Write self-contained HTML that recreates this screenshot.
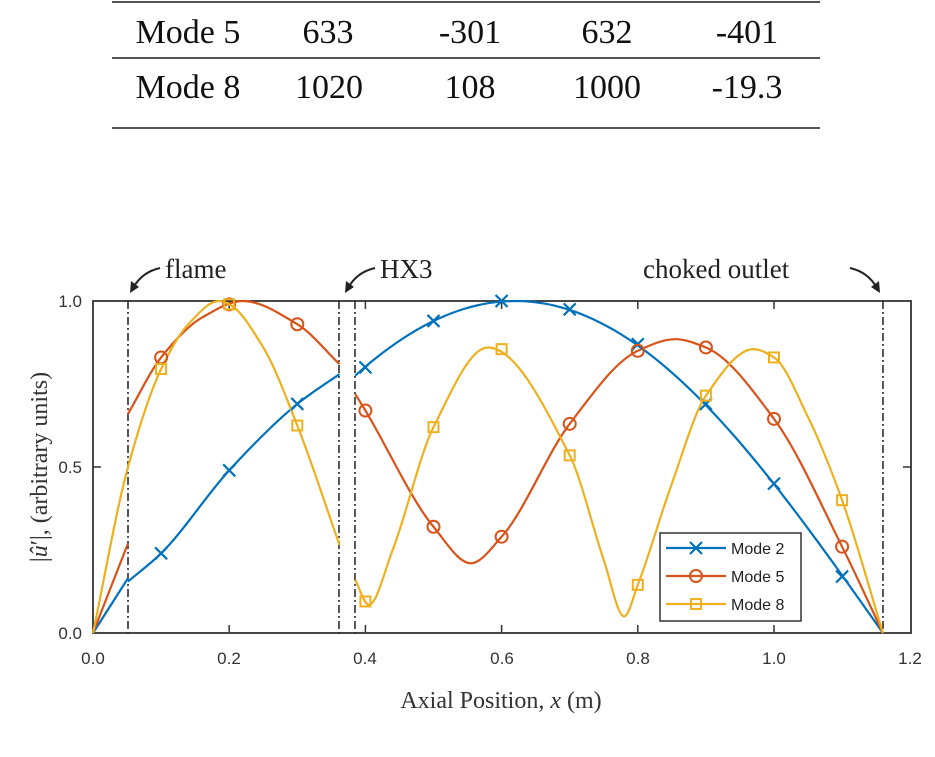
<!DOCTYPE html>
<html><head><meta charset="utf-8"><style>
body{margin:0;background:#fff;}
svg{display:block}
</style></head><body>
<svg id="s" width="935" height="757" viewBox="0 0 935 757" xmlns="http://www.w3.org/2000/svg">
<rect width="935" height="757" fill="#fff"/>
<g stroke="#555" stroke-width="2">
<line x1="112" y1="2" x2="820" y2="2"/>
<line x1="112" y1="58" x2="820" y2="58"/>
<line x1="112" y1="128" x2="820" y2="128"/>
</g>
<g font-family="Liberation Serif, serif" font-size="34" fill="#111" text-anchor="middle">
<text x="188" y="43">Mode 5</text><text x="328" y="43">633</text><text x="470" y="43">-301</text><text x="607" y="43">632</text><text x="747" y="43">-401</text>
<text x="188" y="98">Mode 8</text><text x="329" y="98">1020</text><text x="470" y="98">108</text><text x="607" y="98">1000</text><text x="747" y="98">-19.3</text>
</g>
<g id="plot"></g>
<g font-family="Liberation Sans, sans-serif" font-size="17" fill="#333">
<text x="82" y="639" text-anchor="end">0.0</text>
<text x="82" y="473" text-anchor="end">0.5</text>
<text x="82" y="307" text-anchor="end">1.0</text>
<g text-anchor="middle">
<text x="93" y="664">0.0</text><text x="229" y="664">0.2</text><text x="365" y="664">0.4</text><text x="502" y="664">0.6</text><text x="638" y="664">0.8</text><text x="774" y="664">1.0</text><text x="910" y="664">1.2</text>
</g></g>
<text x="501" y="708" text-anchor="middle" font-family="Liberation Serif, serif" font-size="24" fill="#333">Axial Position, <tspan font-style="italic">x</tspan> (m)</text>
<text transform="translate(47,467) rotate(-90)" text-anchor="middle" font-family="Liberation Serif, serif" font-size="24" fill="#333">|<tspan font-style="italic">û</tspan>′|, (arbitrary units)</text>
<g font-family="Liberation Serif, serif" font-size="27" fill="#222">
<text x="165" y="278">flame</text><text x="380" y="278">HX3</text><text x="643" y="278">choked outlet</text>
</g>
<g stroke="#222" stroke-width="2" fill="none">
<path d="M160,268 Q142,272 133,288"/><path d="M375,268 Q357,272 348,288"/><path d="M850,268 Q868,272 877,288"/>
</g>
<g fill="#222">
<polygon points="130,293 131,281 139,287"/><polygon points="345,293 346,281 354,287"/><polygon points="880,293 871,287 879,281"/>
</g>
<g font-family="Liberation Sans, sans-serif" font-size="16" fill="#222">
<rect x="660" y="533" width="141" height="88" fill="#fff" stroke="#333" stroke-width="1.5"/>
<text x="731" y="554">Mode 2</text><text x="731" y="582">Mode 5</text><text x="731" y="610">Mode 8</text>
</g>
<g id="leg"></g>
</svg>
<script>
var NS="http://www.w3.org/2000/svg";
function X(x){return 93+681*x;}function Y(y){return 633-332*y;}
function el(t,a,p){var e=document.createElementNS(NS,t);for(var k in a)e.setAttribute(k,a[k]);(p||document.getElementById('plot')).appendChild(e);return e;}
function mono(pts){var n=pts.length,xs=pts.map(function(p){return p[0];}),ys=pts.map(function(p){return p[1];});
var d=[],m=[];for(var i=0;i<n-1;i++){d.push((ys[i+1]-ys[i])/(xs[i+1]-xs[i]));}
m[0]=d[0];m[n-1]=d[n-2];for(i=1;i<n-1;i++){if(d[i-1]*d[i]<=0)m[i]=0;else{var h0=xs[i]-xs[i-1],h1=xs[i+1]-xs[i];var w1=2*h1+h0,w2=h1+2*h0;m[i]=(w1+w2)/(w1/d[i-1]+w2/d[i]);}}
var s="M"+X(xs[0])+","+Y(ys[0]);
for(i=0;i<n-1;i++){var h=xs[i+1]-xs[i];
s+=" C"+X(xs[i]+h/3)+","+Y(ys[i]+m[i]*h/3)+" "+X(xs[i+1]-h/3)+","+Y(ys[i+1]-m[i+1]*h/3)+" "+X(xs[i+1])+","+Y(ys[i+1]);}
return s;}
el('rect',{x:93,y:301,width:818,height:332,fill:'none',stroke:'#333','stroke-width':1.8});
[0.2,0.4,0.6,0.8,1.0].forEach(function(v){el('line',{x1:X(v),x2:X(v),y1:633,y2:625,stroke:'#333','stroke-width':1.5});el('line',{x1:X(v),x2:X(v),y1:301,y2:309,stroke:'#333','stroke-width':1.5});});
el('line',{x1:93,x2:101,y1:467,y2:467,stroke:'#333','stroke-width':1.5});el('line',{x1:911,x2:903,y1:467,y2:467,stroke:'#333','stroke-width':1.5});
[128,339,355,883].forEach(function(x){el('line',{x1:x,x2:x,y1:301,y2:633,stroke:'#222','stroke-width':1.5,'stroke-dasharray':'8,3,2,3'});});
var B='#0072BD',R='#D95319',Yc='#EDB120';
function sin2(x){return Math.sin(Math.PI*(1.16-x)/1.08);}
var b3=[];for(var x=0.385;x<1.1501;x+=0.02)b3.push([x,sin2(x)]);b3.push([1.16,0]);
var curves=[
[B,[[0,0],[0.0514,0.165]]],[B,[[0.0514,0.155],[0.1,0.24],[0.2,0.49],[0.3,0.69],[0.362,0.78]]],[B,b3],
[R,[[0,0],[0.0514,0.27]]],[R,[[0.0514,0.66],[0.1,0.83],[0.16,0.95],[0.22,1.0],[0.3,0.93],[0.362,0.81]]],
[R,[[0.385,0.72],[0.4,0.67],[0.5,0.32],[0.555,0.21],[0.6,0.29],[0.7,0.63],[0.8,0.85],[0.855,0.885],[0.9,0.86],[1.0,0.645],[1.1,0.26],[1.16,0]]],
[Yc,[[0,0],[0.0514,0.5],[0.1,0.795],[0.14,0.93],[0.185,1.0],[0.2,0.99],[0.25,0.86],[0.3,0.625],[0.362,0.265]]],
[Yc,[[0.385,0.16],[0.405,0.085],[0.44,0.25],[0.5,0.62],[0.58,0.86],[0.7,0.535],[0.75,0.22],[0.78,0.05],[0.8,0.145],[0.85,0.45],[0.9,0.715],[0.97,0.855],[1.0,0.83],[1.05,0.65],[1.1,0.4],[1.16,0]]]];
curves.forEach(function(c){el('path',{d:mono(c[1]),fill:'none',stroke:c[0],'stroke-width':2.2});});
function cross(x,y,p){el('path',{d:"M"+(x-6)+","+(y-6)+"L"+(x+6)+","+(y+6)+"M"+(x-6)+","+(y+6)+"L"+(x+6)+","+(y-6),stroke:B,'stroke-width':2.2},p);}
function circ(x,y,p){el('circle',{cx:x,cy:y,r:6,fill:'none',stroke:R,'stroke-width':2},p);}
function sq(x,y,p){el('rect',{x:x-5,y:y-5,width:10,height:10,fill:'none',stroke:Yc,'stroke-width':2},p);}
[[0.1,0.24],[0.2,0.49],[0.3,0.69],[0.4,0.8],[0.5,0.94],[0.6,1.0],[0.7,0.975],[0.8,0.87],[0.9,0.69],[1.0,0.45],[1.1,0.17]].forEach(function(p){cross(X(p[0]),Y(p[1]));});
[[0.1,0.83],[0.2,0.99],[0.3,0.93],[0.4,0.67],[0.5,0.32],[0.6,0.29],[0.7,0.63],[0.8,0.85],[0.9,0.86],[1.0,0.645],[1.1,0.26]].forEach(function(p){circ(X(p[0]),Y(p[1]));});
[[0.1,0.795],[0.2,0.99],[0.3,0.625],[0.4,0.095],[0.5,0.62],[0.6,0.855],[0.7,0.535],[0.8,0.145],[0.9,0.715],[1.0,0.83],[1.1,0.4]].forEach(function(p){sq(X(p[0]),Y(p[1]));});
var lg=document.getElementById('leg');
[[B,548,cross],[R,576,circ],[Yc,604,sq]].forEach(function(r){el('line',{x1:666,x2:726,y1:r[1],y2:r[1],stroke:r[0],'stroke-width':2.2},lg);r[2](696,r[1],lg);});
</script>
</body></html>
